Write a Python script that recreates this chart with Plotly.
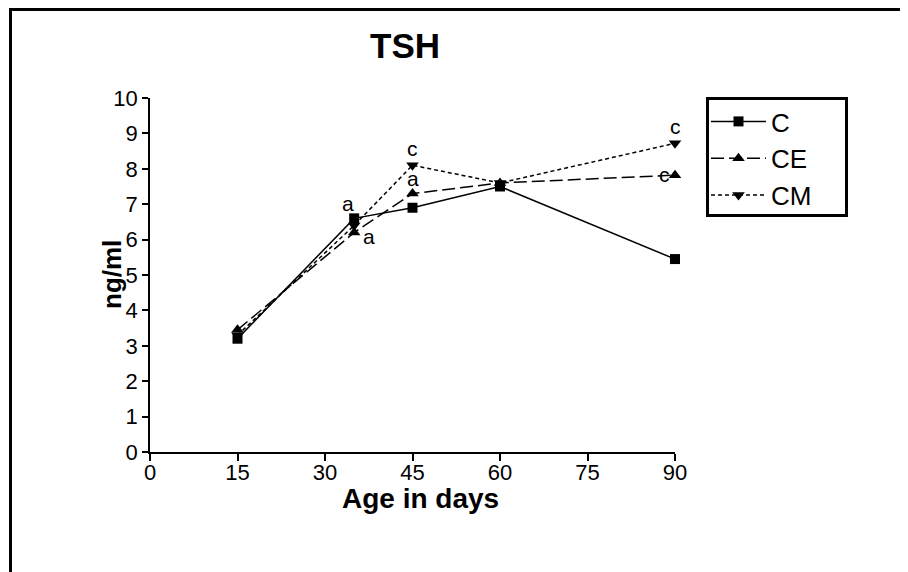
import plotly.graph_objects as go

days = [15, 35, 45, 60, 90]
c_vals = [3.2, 6.6, 6.9, 7.5, 5.45]
ce_vals = [3.45, 6.2, 7.3, 7.6, 7.82]
cm_vals = [3.3, 6.4, 8.1, 7.6, 8.72]
series_names = ["C", "CE", "CM"]
x_ticks = [0, 15, 30, 45, 60, 75, 90]
y_ticks = list(range(0, 11))

# significance letters: (series, day, text, xshift, yshift)
sig_labels = [
    ("C", 35, "a", -6, 15),
    ("CE", 35, "a", 15, -4),
    ("CE", 45, "a", 0, 15),
    ("CM", 45, "c", 0, 17),
    ("CM", 90, "c", 0, 17),
    ("CE", 90, "c", -11, 1),
]

FONT = "Liberation Sans, Arial, sans-serif"
OFF = 8  # page body margin
W, H = 900, 564
L, R, T, B = 142, 233, 90, 120
pw, ph = W - L - R, H - T - B

def px(x):
    return (x - OFF - L) / pw

def py(y):
    return (H - B - (y - OFF)) / ph

vals = {"C": c_vals, "CE": ce_vals, "CM": cm_vals}
styles = {
    "C": dict(dash="solid", symbol="square", size=10),
    "CE": dict(dash="13px,5px", symbol="triangle-up", size=11),
    "CM": dict(dash="4px,3px", symbol="triangle-down", size=11),
}

fig = go.Figure()
for i, name in enumerate(series_names):
    st = styles[name]
    fig.add_trace(go.Scatter(
        x=days, y=vals[name], name=name, mode="lines+markers",
        line=dict(color="black", width=1.5, dash=st["dash"]),
        marker=dict(symbol=st["symbol"], size=st["size"], color="black"),
        cliponaxis=False, legendgroup=name,
    ))

for s, d, t, xs, ys in sig_labels:
    fig.add_annotation(x=d, y=vals[s][days.index(d)], text=t, showarrow=False,
                       xshift=xs, yshift=ys, font=dict(size=21, color="black", family=FONT))

def label(x, y, text, size, angle=0):
    fig.add_annotation(xref="paper", yref="paper", x=px(x), y=py(y), text=text,
                       xanchor="center", yanchor="middle", textangle=angle,
                       showarrow=False, font=dict(size=size, color="black", family=FONT))

label(405, 45, "<b>TSH</b>", 35)
label(420, 498, "<b>Age in days</b>", 28)
label(112, 275, "<b>ng/ml</b>", 26, -90)

# outer frame (top and left edges)
fig.add_shape(type="line", xref="paper", yref="paper", x0=px(9), y0=py(9.5), x1=px(930), y1=py(9.5),
              line=dict(color="black", width=3))
fig.add_shape(type="line", xref="paper", yref="paper", x0=px(10.5), y0=py(8), x1=px(10.5), y1=py(600),
              line=dict(color="black", width=3))
# legend frame
fig.add_shape(type="rect", xref="paper", yref="paper", x0=px(707.5), y0=py(98.5), x1=px(846.5), y1=py(215.5),
              line=dict(color="black", width=3), fillcolor="rgba(0,0,0,0)")

fig.update_layout(
    width=W, height=H,
    margin=dict(l=L, r=R, t=T, b=B),
    paper_bgcolor="white", plot_bgcolor="white",
    font=dict(family=FONT, color="black", size=22),
    showlegend=True,
    legend=dict(x=px(706), y=py(98), xanchor="left", yanchor="top",
                borderwidth=0, bgcolor="rgba(0,0,0,0)",
                font=dict(size=26, family=FONT), tracegroupgap=0,
                itemwidth=55),
    xaxis=dict(range=[0, 90], tickvals=x_ticks, ticktext=[str(v) for v in x_ticks],
               showgrid=False, zeroline=False, showline=True, linecolor="black", linewidth=1.5,
               ticks="outside", ticklen=7, tickwidth=1.5, tickcolor="black",
               tickfont=dict(size=22), ticklabelstandoff=-7),
    yaxis=dict(range=[0, 10], tickvals=y_ticks, ticktext=[str(v) for v in y_ticks],
               showgrid=False, zeroline=False, showline=True, linecolor="black", linewidth=1.5,
               ticks="outside", ticklen=6, tickwidth=1.5, tickcolor="black",
               tickfont=dict(size=22)),
)

fig.write_html("out.html")
